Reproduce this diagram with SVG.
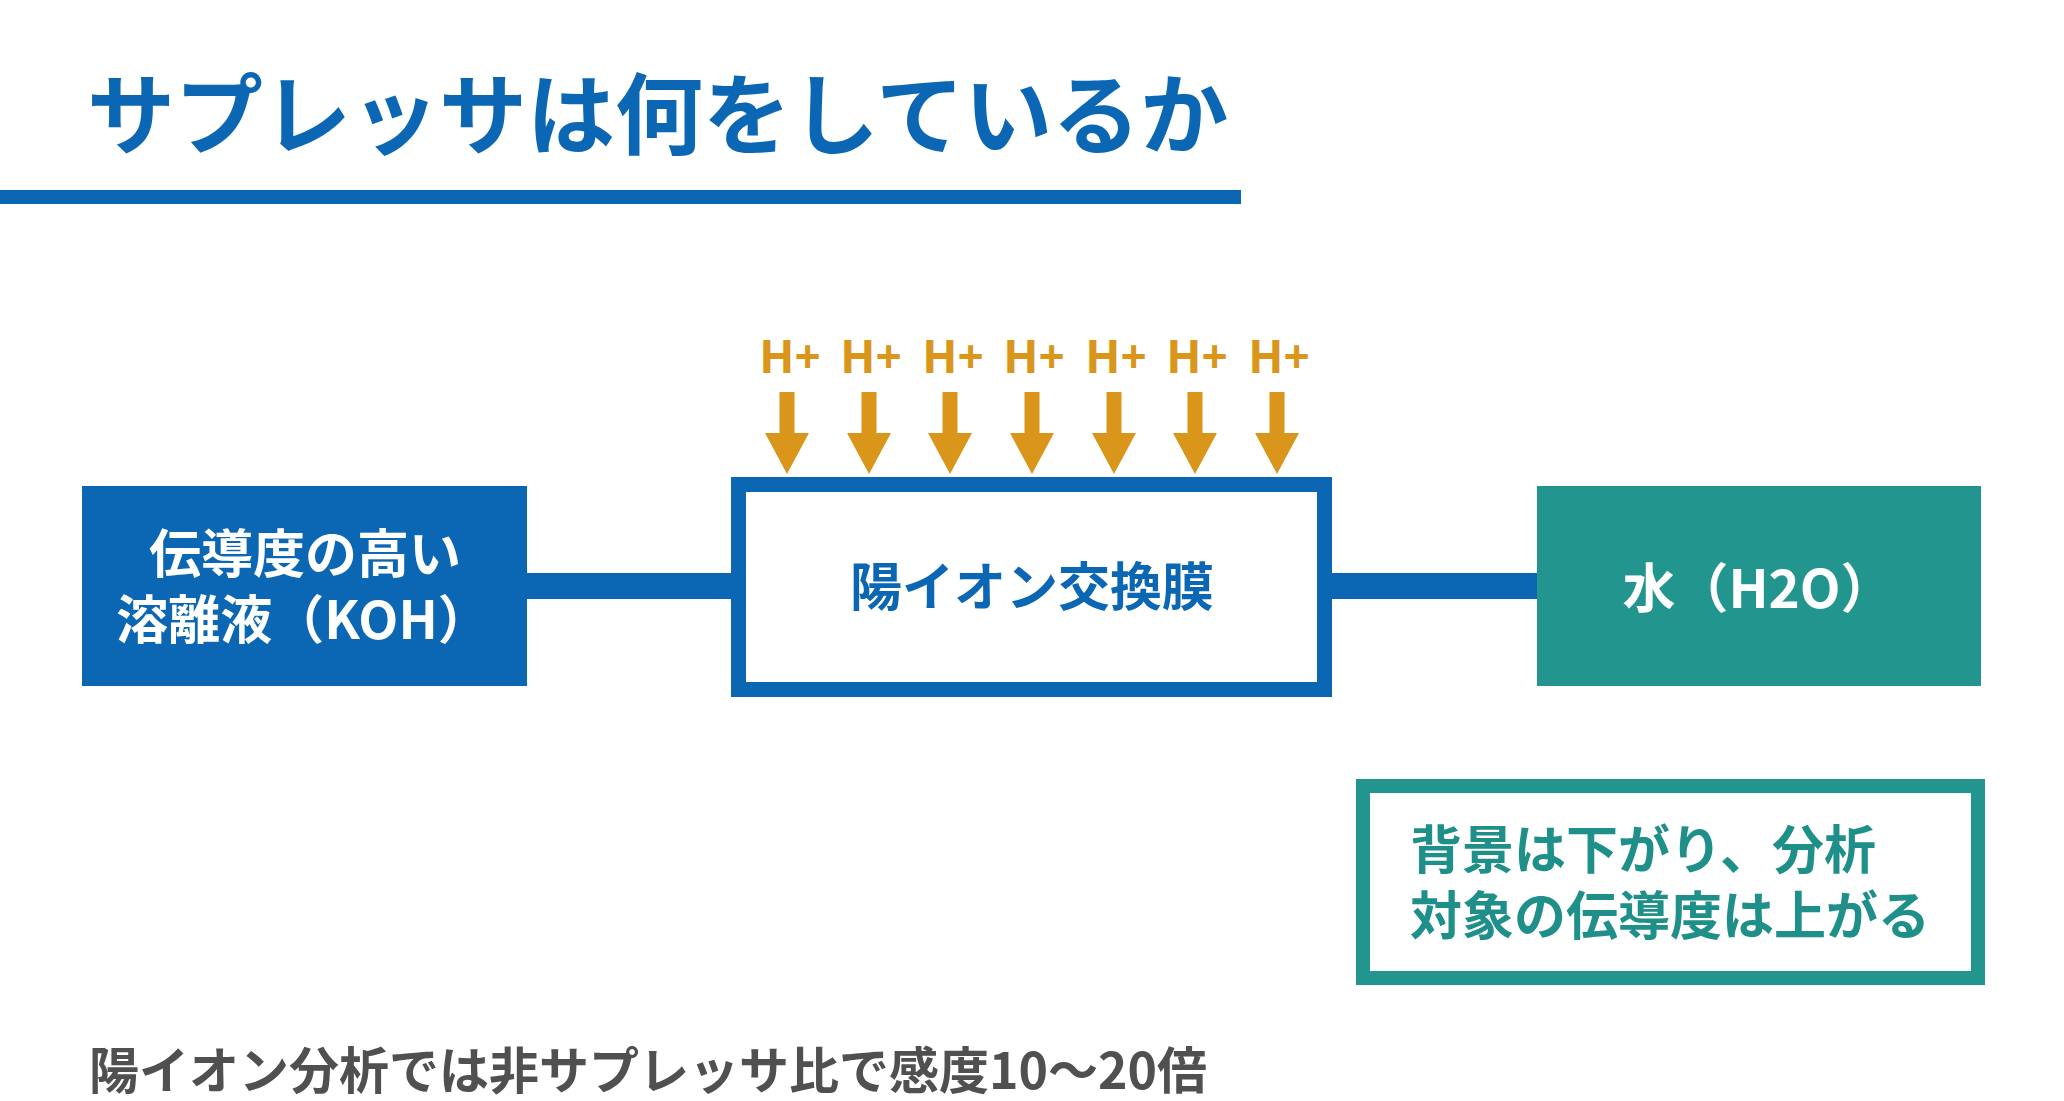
<svg xmlns="http://www.w3.org/2000/svg" width="2064" height="1101" viewBox="0 0 2064 1101">
<style>
text{font-family:"Noto Sans CJK JP","Noto Sans",sans-serif;font-weight:700}
.title{font-size:88px;fill:#0b67b4}
.w{fill:#ffffff;font-size:52px;text-anchor:middle}
.b{fill:#0b67b4;font-size:52px;text-anchor:middle}
.t{fill:#1f8f8a;font-size:52px}
.h{fill:#d9961a;font-size:46px;text-anchor:middle;font-family:"Noto Sans","Noto Sans CJK JP",sans-serif}
.arrow{fill:#d9961a}
.note{fill:#505050;font-size:50px}
</style>
<defs>
<path id="arr" d="M-7.5,392 H7.5 V433 H22 L0,474 L-22,433 H-7.5 Z"/>
</defs>
<rect width="2064" height="1101" fill="#ffffff"/>
<g id="title">
<text class="title" x="87" y="147">サプレッサは何をしているか</text>
<rect x="0" y="190" width="1241" height="14" fill="#0b67b4"/>
</g>
<g id="connectors">
<rect x="527" y="573" width="212" height="26" fill="#0b67b4"/>
<rect x="1325" y="573" width="212" height="26" fill="#0b67b4"/>
</g>
<g id="eluent">
<rect x="82" y="486" width="445" height="200" fill="#0b67b4"/>
<text class="w" x="305" y="573">伝導度の高い</text>
<text class="w" x="303" y="639">溶離液（KOH）</text>
</g>
<g id="membrane">
<rect x="738.5" y="484.5" width="586" height="205" fill="#ffffff" stroke="#0b67b4" stroke-width="15"/>
<text class="b" x="1032" y="606">陽イオン交換膜</text>
</g>
<g id="protons">
<text class="h" x="790" y="373">H+</text>
<text class="h" x="871" y="373">H+</text>
<text class="h" x="953" y="373">H+</text>
<text class="h" x="1034" y="373">H+</text>
<text class="h" x="1116" y="373">H+</text>
<text class="h" x="1197" y="373">H+</text>
<text class="h" x="1279" y="373">H+</text>
<use href="#arr" class="arrow" x="787"/>
<use href="#arr" class="arrow" x="869"/>
<use href="#arr" class="arrow" x="950"/>
<use href="#arr" class="arrow" x="1032"/>
<use href="#arr" class="arrow" x="1114"/>
<use href="#arr" class="arrow" x="1195"/>
<use href="#arr" class="arrow" x="1277"/>
</g>
<g id="water">
<rect x="1537" y="486" width="444" height="200" fill="#22958f"/>
<text class="w" x="1758" y="608" style="font-size:53px">水（H2O）</text>
</g>
<g id="result">
<rect x="1363" y="786" width="615" height="192" fill="#ffffff" stroke="#22958f" stroke-width="14"/>
<text class="t" x="1410" y="869">背景は下がり、分析</text>
<text class="t" x="1410" y="935">対象の伝導度は上がる</text>
</g>
<g id="footnote">
<text class="note" x="89" y="1089">陽イオン分析では非サプレッサ比で感度10〜20倍</text>
</g>
</svg>
